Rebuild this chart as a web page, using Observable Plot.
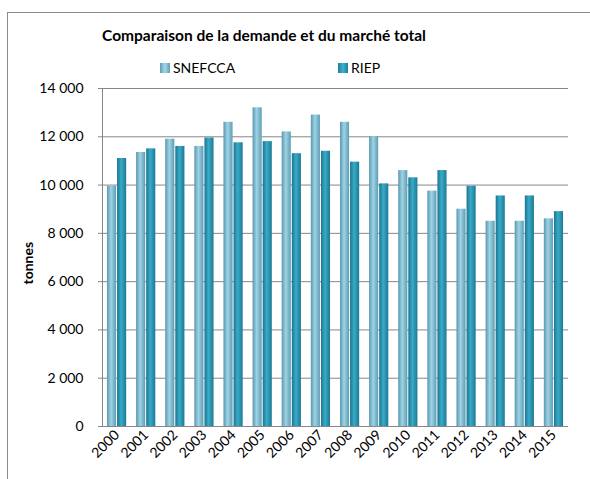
<!DOCTYPE html>
<html><head><meta charset="utf-8">
<script src="https://cdn.jsdelivr.net/npm/d3@7"></script>
<script src="https://cdn.jsdelivr.net/npm/@observablehq/plot@0.6"></script>
<style>
html,body{margin:0;padding:0;background:#fff;}
#wrap{position:relative;width:590px;height:479px;overflow:hidden;font-family:Lato,"Open Sans",sans-serif;color:#000;}
#frame{position:absolute;left:7px;top:12px;width:640px;height:560px;border:1.5px solid #8c8c8c;box-sizing:border-box;}
#title{position:absolute;left:0;width:528px;top:26px;text-align:center;font-weight:bold;font-size:15.5px;}
.leg{position:absolute;top:59px;font-size:14px;display:flex;align-items:center;}
.sw{width:10px;height:10px;margin-right:3px;}
#chart{position:absolute;left:0;top:0;}
</style></head>
<body><div id="wrap"><div id="frame"></div><div id="title">Comparaison de la demande et du marché total</div>
<div class="leg" style="left:160px"><div class="sw" style="background:linear-gradient(90deg,#5e9db4,#a6d7e8,#5e9db4)"></div>SNEFCCA</div>
<div class="leg" style="left:338px"><div class="sw" style="background:linear-gradient(90deg,#1f7d96,#3db3d0,#1f7d96)"></div>RIEP</div>
<div id="chart"></div></div>
<script>
const years = [2000,2001,2002,2003,2004,2005,2006,2007,2008,2009,2010,2011,2012,2013,2014,2015];
const snefcca = [9950,11350,11900,11600,12600,13200,12200,12900,12600,12000,10600,9750,9000,8500,8500,8600];
const riep = [11100,11500,11600,11950,11750,11800,11300,11400,10950,10050,10300,10600,9950,9550,9550,8900];
const seriesNames = ["SNEFCCA","RIEP"];
const yTicks = [0,2000,4000,6000,8000,10000,12000,14000];

const half = 0.33;
const data = [];
years.forEach((y,i)=>{
  data.push({year:y, series:seriesNames[0], value:snefcca[i], x1:y-half, x2:y});
  data.push({year:y, series:seriesNames[1], value:riep[i], x1:y, x2:y+half});
});
const xDomain = [years[0]-0.5, years[years.length-1]+0.5];
const fmt = n => n===0 ? "0" : d3.format(",")(n).replace(",", " ");

const plot = Plot.plot({
  width:590, height:479,
  marginTop:88, marginBottom:53, marginLeft:102, marginRight:22,
  style:{fontFamily:"Lato, 'Open Sans', sans-serif", background:"transparent"},
  x:{type:"linear", domain:xDomain},
  y:{domain:[0,14000]},
  marks:[
    Plot.gridY(yTicks,{stroke:"#878787",strokeOpacity:1,strokeWidth:1}),
    Plot.ruleX([xDomain[0]],{stroke:"#878787"}),
    Plot.ruleY([0],{stroke:"#878787"}),
    Plot.rectY(data.filter(d=>d.series===seriesNames[0]),{x1:"x1",x2:"x2",y:"value",fill:"url(#gS)",insetRight:0.5}),
    Plot.rectY(data.filter(d=>d.series===seriesNames[1]),{x1:"x1",x2:"x2",y:"value",fill:"url(#gR)",insetLeft:0.5}),
    Plot.axisY(yTicks,{tickSize:4,tickPadding:15,tickFormat:fmt,fontSize:14,stroke:"#878787",label:null}),
    Plot.axisX(years,{tickFormat:d=>String(d),tickRotate:-45,tickSize:0,tickPadding:6,fontSize:14,label:null}),
    Plot.text(["tonnes"],{frameAnchor:"left",dx:-74,dy:27,rotate:-90,fontWeight:"bold",fontSize:14})
  ]
});
const ns="http://www.w3.org/2000/svg";
const defs=document.createElementNS(ns,"defs");
defs.innerHTML=`<linearGradient id="gS" x1="0" x2="1" y1="0" y2="0">
<stop offset="0" stop-color="#5a98ae"/><stop offset="0.45" stop-color="#9fd3e5"/><stop offset="1" stop-color="#5e9db4"/></linearGradient>
<linearGradient id="gR" x1="0" x2="1" y1="0" y2="0">
<stop offset="0" stop-color="#1c7590"/><stop offset="0.45" stop-color="#38abc8"/><stop offset="1" stop-color="#1d7994"/></linearGradient>`;
plot.insertBefore(defs, plot.firstChild);
document.getElementById("chart").appendChild(plot);
</script></body></html>
